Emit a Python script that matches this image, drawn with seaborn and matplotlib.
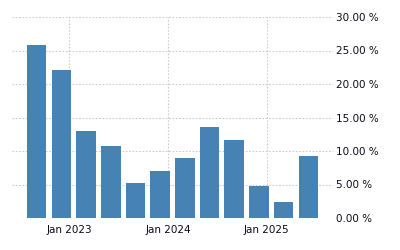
import matplotlib
matplotlib.use("Agg")
import matplotlib.pyplot as plt
import seaborn as sns
import pandas as pd

quarters = ["Q3 2022", "Q4 2022", "Q1 2023", "Q2 2023", "Q3 2023", "Q4 2023",
            "Q1 2024", "Q2 2024", "Q3 2024", "Q4 2024", "Q1 2025", "Q2 2025"]
values = [25.8, 22.1, 13.0, 10.7, 5.2, 7.0, 9.0, 13.6, 11.6, 4.8, 2.4, 9.3]
tick_labels = ["Jan 2023", "Jan 2024", "Jan 2025"]
y_ticks = [0, 5, 10, 15, 20, 25, 30]

sns.set_theme(style="white")
plt.rcParams['font.family'] = ['DejaVu Sans']

df = pd.DataFrame({"quarter": quarters, "value": values})

fig = plt.figure(figsize=(4, 2.5), dpi=100)
ax = fig.add_axes([0.03, 0.128, 0.8025, 0.804])
sns.barplot(data=df, x="quarter", y="value", color="#4682B4", saturation=1,
            width=0.79, ax=ax, zorder=3, linewidth=0, edgecolor="none")

ax.set_xlim(-1, 12)
ax.set_ylim(0, 30)
ax.set_xlabel("")
ax.set_ylabel("")

ax.set_xticks([1.32, 5.32, 9.32])
ax.set_xticklabels(tick_labels, fontsize=7.5, color="#0a0a1a")
ax.set_yticks(y_ticks)
ax.set_yticklabels([f"{v:.2f} %" for v in y_ticks], fontsize=7.5, color="#0a0a1a")
ax.yaxis.tick_right()
ax.tick_params(axis="y", length=0, pad=2)
ax.tick_params(axis="x", length=3, color="#cccccc", pad=2)

ax.grid(True, axis="both", color="#cccccc", linestyle=(0, (1.5, 1.5)), linewidth=0.8, zorder=0)
for s in ax.spines.values():
    s.set_visible(False)

fig.savefig("out.png", dpi=100)
